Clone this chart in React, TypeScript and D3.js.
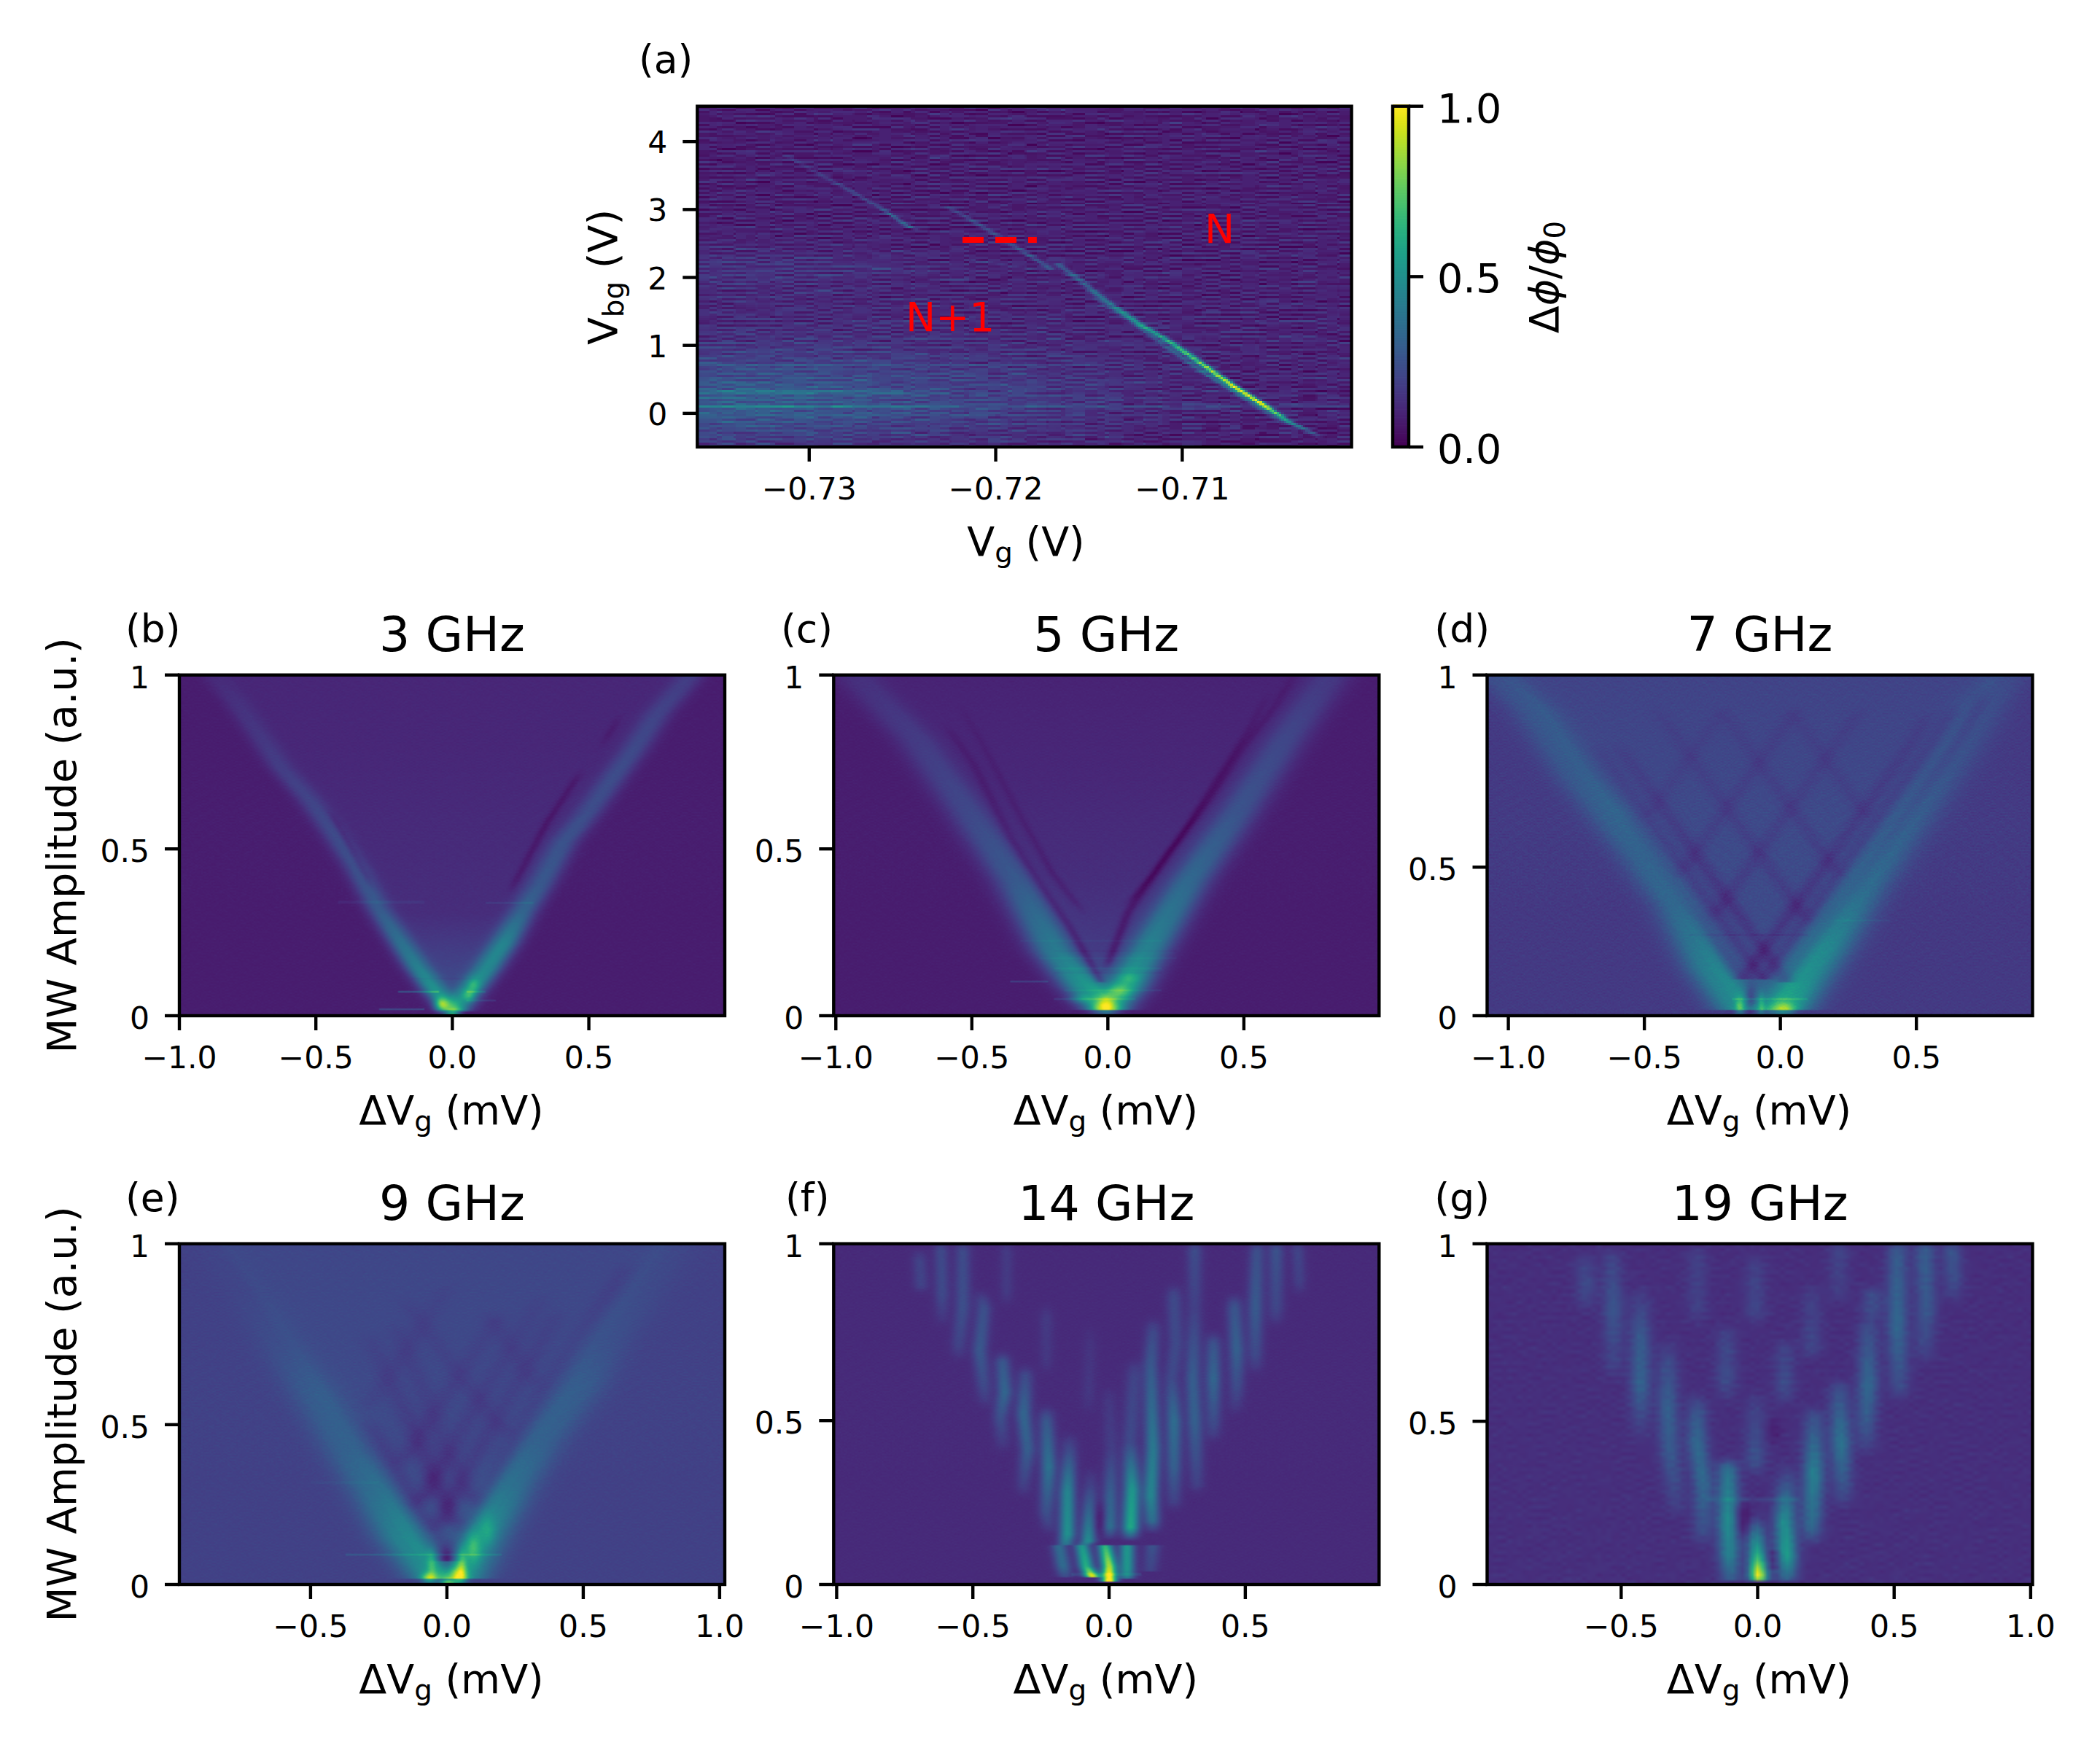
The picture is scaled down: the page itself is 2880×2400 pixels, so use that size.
import React, { useMemo } from "react";
import * as d3 from "d3";

// ---------- data ----------
// A ridge is [width, knots]; a knot is [x, y, added value]. y of panels b-g is the fraction of the amplitude axis.
type Knot = [number, number, number];
type Ridge = [number, Knot[]];
type Blob = [number, number, number, number, number]; // x, y, sx, sy, value
type Glitch = [number, number, number, number]; // y, x0, x1, value

const ridgesA: Ridge[] = [
  [0.00017, [[-0.71666, 2.195, 0.18], [-0.71526, 1.909, 0.22], [-0.71422, 1.675, 0.28], [-0.7134, 1.523, 0.34], [-0.71212, 1.285, 0.42], [-0.7108, 1.075, 0.5], [-0.70948, 0.825, 0.62], [-0.70724, 0.396, 0.85], [-0.70579, 0.146, 0.9], [-0.70421, -0.141, 0.42], [-0.70315, -0.266, 0.2], [-0.70263, -0.355, 0.06]]],
  [0.00015, [[-0.71462, 1.683, 0.08], [-0.71277, 1.362, 0.13], [-0.7108, 0.968, 0.18], [-0.70882, 0.592, 0.22], [-0.70684, 0.253, 0.22], [-0.70486, -0.105, 0.1], [-0.7043, -0.18, 0.04]]],
  [0.00015, [[-0.72254, 3.03, 0.1], [-0.72115, 2.816, 0.16], [-0.71909, 2.475, 0.15], [-0.71699, 2.112, 0.18]]],
  [0.00013, [[-0.73136, 3.822, 0.04], [-0.72928, 3.5, 0.09], [-0.72771, 3.268, 0.13], [-0.72615, 3.017, 0.16], [-0.72471, 2.749, 0.26], [-0.72415, 2.689, 0.05]]],
  [0.00018, [[-0.7215, 2.27, 0.04], [-0.717, 2.07, 0.07]]],
];
const blobsA: Blob[] = [
  [-0.735, 0.2, 0.006, 0.45, 0.13],
  [-0.727, 0.15, 0.008, 0.5, 0.09],
  [-0.718, 0.2, 0.005, 0.4, 0.035],
  [-0.73, 1.2, 0.01, 0.5, 0.02],
  [-0.735, 2.1, 0.006, 0.25, 0.05],
  [-0.727, 2.15, 0.005, 0.1, 0.02],
];
const glitchesA: Glitch[] = [
  [0.107, -0.736, -0.722, 0.16], [0.107, -0.722, -0.701, 0.08],
  [0.13, -0.711, -0.701, 0.05],
  [0.31, -0.736, -0.725, 0.09], [0.715, -0.736, -0.715, 0.06],
  [-0.02, -0.736, -0.72, 0.05],
];
const stripesLeft = "3526241735263184263715243617254136825143627153826317452638152473625184372615348261735243628154736251847362518473625948361725483617254936172584936275184937261859372".split("").map(Number);
const stripesRight = "2413526314253142635214362513427351426315243625134263152436271534261534726153427351627143526173425163725143627514362751436275143625174362517426351742635174263541".split("").map(Number);
const shiftA = [0, 7, 13, 3, 22, 9, 31, 5, 17, 41, 2, 27, 11, 36, 19, 6, 29, 14, 45, 1, 24, 8, 33, 16, 39, 4, 21, 12, 48, 26, 10, 35, 18];
const shiftB = [5, 28, 1, 19, 37, 12, 44, 8, 23, 3, 31, 15, 40, 6, 26, 10, 34, 17, 2, 47, 21, 13, 30, 7, 38, 25, 0, 16, 42, 9, 29];

const ridgesB: Ridge[] = [
  [0.032, [[-0.007, 0.018, 0.35], [-0.067, 0.075, 0.42], [-0.135, 0.147, 0.34], [-0.203, 0.23, 0.27], [-0.271, 0.313, 0.2], [-0.357, 0.438, 0.16], [-0.442, 0.541, 0.14], [-0.527, 0.635, 0.12], [-0.63, 0.728, 0.1], [-0.7, 0.811, 0.08], [-0.8, 0.925, 0.06], [-0.869, 0.988, 0.04], [-0.92, 1.05, 0.04]]],
  [0.036, [[0.01, 0.012, 0.35], [0.07, 0.075, 0.42], [0.13, 0.137, 0.38], [0.19, 0.21, 0.37], [0.258, 0.303, 0.24], [0.326, 0.386, 0.19], [0.411, 0.51, 0.17], [0.497, 0.593, 0.15], [0.6, 0.707, 0.15], [0.667, 0.78, 0.14], [0.753, 0.884, 0.12], [0.855, 0.977, 0.1], [0.92, 1.05, 0.1]]],
  [0.011, [[-0.459, 0.614, -0.04], [-0.391, 0.52, -0.05], [-0.288, 0.365, -0.05]]],
  [0.012, [[0.48, 0.728, -0.04], [0.343, 0.562, -0.06], [0.206, 0.355, -0.05]]],
  [0.012, [[0.62, 0.89, -0.03], [0.54, 0.78, -0.03]]],
];
const fillB: [number, number][] = [[0, 0.15], [0.1, 0.14], [0.3, 0.05], [0.5, 0.04], [0.8, 0.03], [1, 0.03]];
const blobsB: Blob[] = [
  [-0.04, 0.033, 0.018, 0.014, 0.4], [0, 0.007, 0.02, 0.006, 0.55], [0.061, 0.06, 0.016, 0.012, 0.2], [0.078, 0.09, 0.016, 0.014, 0.16],
];
const glitchesB: Glitch[] = [
  [0.334, -0.42, -0.1, 0.03], [0.332, 0.12, 0.3, 0.06], [0.07, -0.2, -0.05, 0.2], [0.018, -0.27, -0.1, 0.15], [0.07, 0.05, 0.12, 0.12], [0.045, 0.05, 0.16, 0.08], [0.11, -0.15, 0.1, -0.03],
];

const ridgesC: Ridge[] = [
  [0.054, [[-0.018, 0.018, 0.3], [-0.095, 0.085, 0.42], [-0.203, 0.189, 0.32], [-0.349, 0.396, 0.19], [-0.526, 0.604, 0.13], [-0.711, 0.811, 0.09], [-0.911, 0.977, 0.06], [-0.98, 1.05, 0.05]]],
  [0.054, [[0.012, 0.018, 0.3], [0.074, 0.085, 0.45], [0.151, 0.189, 0.35], [0.305, 0.396, 0.25], [0.489, 0.604, 0.17], [0.658, 0.811, 0.13], [0.797, 0.967, 0.09], [0.87, 1.05, 0.08]]],
  [0.014, [[-0.026, 0.1, -0.14], [-0.142, 0.261, -0.08], [-0.249, 0.386, -0.06], [-0.357, 0.521, -0.05], [-0.495, 0.739, -0.03], [-0.603, 0.863, -0.02]]],
  [0.014, [[-0.011, 0.127, -0.12], [0.074, 0.303, -0.08], [0.228, 0.479, -0.06], [0.382, 0.645, -0.05], [0.489, 0.78, -0.04], [0.612, 0.905, -0.03], [0.7, 1.02, -0.02]]],
  [0.012, [[0.058, 0.313, -0.05], [0.166, 0.417, -0.05], [0.289, 0.552, -0.05], [0.412, 0.707, -0.04], [0.52, 0.842, -0.03], [0.6, 0.96, -0.01]]],
  [0.012, [[-0.08, 0.293, -0.04], [-0.203, 0.417, -0.04], [-0.326, 0.593, -0.03], [-0.449, 0.78, -0.02], [-0.55, 0.92, -0.01]]],
];
const fillC: [number, number][] = [[0, 0.2], [0.1, 0.14], [0.2, 0.09], [0.4, 0.05], [0.7, 0.03], [1, 0.02]];
const blobsC: Blob[] = [
  [-0.01, 0.023, 0.035, 0.018, 0.35], [0.05, 0.07, 0.03, 0.015, 0.2], [0.08, 0.11, 0.025, 0.012, 0.12], [-0.095, 0.05, 0.03, 0.01, 0.15],
];
const glitchesC: Glitch[] = [
  [0.1, -0.36, -0.22, 0.12], [0.22, -0.32, 0.2, 0.03], [0.05, -0.2, 0.1, 0.08], [0.14, -0.2, 0.2, 0.04], [0.125, -0.2, 0.2, -0.03], [0.17, -0.25, 0.25, 0.03], [0.075, -0.16, 0.2, 0.05], [0.19, -0.2, 0.25, -0.02],
];

const ridgesD: Ridge[] = [
  [0.062, [[-0.155, 0.018, 0.3], [-0.263, 0.137, 0.26], [-0.386, 0.324, 0.17], [-0.509, 0.459, 0.14], [-0.648, 0.604, 0.13], [-0.755, 0.707, 0.11], [-0.909, 0.894, 0.1], [-1.017, 0.977, 0.08], [-1.09, 1.05, 0.07]]],
  [0.068, [[0.014, 0.018, 0.42], [0.091, 0.106, 0.33], [0.168, 0.199, 0.3], [0.306, 0.376, 0.19], [0.445, 0.541, 0.14], [0.598, 0.718, 0.1], [0.752, 0.915, 0.08], [0.814, 0.977, 0.06], [0.87, 1.05, 0.05]]],
  [0.024, [[0.022, 0.1, -0.08], [-0.242, 0.396, -0.06], [-0.611, 0.811, -0.02]]],
  [0.024, [[-0.063, 0.106, -0.08], [-0.326, 0.396, -0.05], [-0.695, 0.811, -0.015]]],
  [0.024, [[-0.14, 0.106, -0.09], [-0.403, 0.396, -0.04], [-0.58, 0.6, -0.015]]],
  [0.024, [[-0.14, 0.106, -0.09], [0.123, 0.396, -0.06], [0.492, 0.811, -0.03], [0.55, 0.9, -0.02]]],
  [0.024, [[-0.063, 0.106, -0.08], [0.2, 0.396, -0.06], [0.569, 0.811, -0.04], [0.65, 0.92, -0.03]]],
  [0.024, [[0.022, 0.1, -0.08], [0.285, 0.396, -0.06], [0.654, 0.811, -0.05], [0.72, 0.9, -0.05], [0.76, 0.97, -0.02]]],
  [0.024, [[0.114, 0.261, -0.05], [-0.191, 0.604, -0.03], [-0.468, 0.915, -0.015]]],
  [0.024, [[0.229, 0.396, -0.04], [0.045, 0.604, -0.03], [-0.232, 0.915, -0.015]]],
  [0.024, [[0.337, 0.562, -0.03], [0.023, 0.915, -0.015]]],
  [0.024, [[-0.263, 0.272, -0.05], [0.032, 0.604, -0.03], [0.309, 0.915, -0.02]]],
  [0.024, [[-0.386, 0.396, -0.04], [-0.202, 0.604, -0.03], [0.075, 0.915, -0.02]]],
  [0.024, [[-0.509, 0.562, -0.025], [-0.195, 0.915, -0.015]]],
];
const fillD: [number, number][] = [[0, 0.1], [0.1, 0.1], [0.3, 0.06], [1, 0.035]];
const blobsD: Blob[] = [
  [-0.109, 0.044, 0.014, 0.03, -0.2], [-0.07, 0.03, 0.008, 0.025, 0.15], [-0.15, 0.025, 0.012, 0.02, 0.25], [0.014, 0.018, 0.028, 0.016, 0.3],
];
const glitchesD: Glitch[] = [[0.238, -0.34, 0.1, -0.04], [0.28, 0.2, 0.4, 0.04], [0.05, -0.18, 0.1, 0.1]];

const ridgesE: Ridge[] = [
  [0.064, [[-0.048, 0.018, 0.3], [-0.168, 0.137, 0.25], [-0.271, 0.272, 0.16], [-0.373, 0.396, 0.11], [-0.493, 0.562, 0.09], [-0.613, 0.707, 0.04], [-0.733, 0.863, 0.015], [-0.9, 1.05, 0.01]]],
  [0.064, [[0.055, 0.018, 0.3], [0.149, 0.168, 0.28], [0.243, 0.293, 0.17], [0.346, 0.417, 0.11], [0.5, 0.583, 0.09], [0.586, 0.707, 0.05], [0.723, 0.863, 0.03], [0.88, 1.05, 0.02]]],
  [0.03, [[0, 0.07, -0.1], [-0.039, 0.147, -0.08], [-0.108, 0.22, -0.09], [-0.185, 0.334, -0.06], [-0.305, 0.5, -0.02]]],
  [0.03, [[0.046, 0.147, -0.08], [0.003, 0.23, -0.08], [-0.048, 0.313, -0.07], [-0.099, 0.417, -0.05], [-0.185, 0.562, -0.03], [-0.3, 0.75, -0.015]]],
  [0.03, [[0.106, 0.22, -0.08], [0.055, 0.313, -0.04], [-0.014, 0.417, -0.03], [-0.082, 0.562, -0.03], [-0.2, 0.78, -0.015]]],
  [0.03, [[0, 0.07, -0.1], [0.046, 0.147, -0.08], [0.106, 0.22, -0.08], [0.149, 0.282, -0.07], [0.243, 0.417, -0.04], [0.346, 0.562, -0.03], [0.483, 0.728, -0.02], [0.603, 0.863, -0.03], [0.68, 0.96, -0.015]]],
  [0.03, [[-0.039, 0.147, -0.08], [0.003, 0.23, -0.08], [0.072, 0.334, -0.05], [0.192, 0.5, -0.03], [0.312, 0.666, -0.03], [0.42, 0.82, -0.015]]],
  [0.03, [[-0.108, 0.22, -0.09], [-0.048, 0.313, -0.07], [0.021, 0.407, -0.04], [0.14, 0.573, -0.03], [0.26, 0.728, -0.02], [0.36, 0.86, -0.015]]],
  [0.03, [[0.243, 0.417, -0.03], [0.055, 0.604, -0.025], [-0.168, 0.853, -0.015]]],
  [0.03, [[-0.185, 0.334, -0.04], [0.003, 0.562, -0.03], [0.209, 0.811, -0.015]]],
  [0.03, [[-0.305, 0.5, -0.02], [-0.116, 0.728, -0.02], [0.02, 0.9, -0.01]]],
  [0.03, [[0.346, 0.562, -0.02], [0.14, 0.811, -0.02]]],
];
const fillE: [number, number][] = [[0, 0.1], [0.2, 0.08], [0.4, 0.03], [1, 0.02]];
const blobsE: Blob[] = [
  [0, 0.07, 0.02, 0.025, -0.18], [-0.065, 0.018, 0.02, 0.012, 0.35], [0.046, 0.023, 0.02, 0.02, 0.4], [0.003, 0.007, 0.02, 0.006, 0.45],
  [-0.056, 0.06, 0.012, 0.03, 0.16], [0.055, 0.06, 0.012, 0.03, 0.2], [0.098, 0.106, 0.02, 0.03, 0.2], [0.149, 0.158, 0.02, 0.03, 0.12],
];
const glitchesE: Glitch[] = [[0.088, -0.37, 0.2, 0.1], [0.3, -0.5, -0.25, 0.02]];

const ridgesF: Ridge[] = [
  [0.019, [[-0.698, 0.99, 0.08], [-0.69, 0.873, 0.08], [-0.69, 0.84, 0]]],
  [0.019, [[-0.618, 1.02, 0.1], [-0.613, 0.85, 0.1], [-0.613, 0.74, 0]]],
  [0.02, [[-0.537, 1.02, 0.1], [-0.537, 0.811, 0.12], [-0.552, 0.707, 0.08], [-0.552, 0.64, 0]]],
  [0.02, [[-0.475, 0.88, 0], [-0.46, 0.811, 0.12], [-0.475, 0.687, 0.15], [-0.46, 0.583, 0.1], [-0.452, 0.5, 0]]],
  [0.02, [[-0.391, 0.7, 0], [-0.391, 0.65, 0.15], [-0.383, 0.562, 0.2], [-0.399, 0.49, 0.12], [-0.391, 0.417, 0.05], [-0.391, 0.37, 0]]],
  [0.02, [[-0.307, 0.66, 0], [-0.307, 0.614, 0.1], [-0.314, 0.5, 0.2], [-0.299, 0.396, 0.17], [-0.314, 0.293, 0.07], [-0.31, 0.24, 0]]],
  [0.02, [[-0.23, 0.54, 0], [-0.23, 0.479, 0.15], [-0.222, 0.344, 0.25], [-0.23, 0.21, 0.12], [-0.215, 0.13, 0]]],
  [0.02, [[-0.146, 0.46, 0], [-0.146, 0.396, 0.1], [-0.153, 0.272, 0.33], [-0.153, 0.147, 0.38], [-0.16, 0.116, 0.25]]],
  [0.02, [[-0.184, 0.116, 0.22], [-0.169, 0.054, 0.22], [-0.16, 0.02, 0.1]]],
  [0.019, [[-0.069, 0.36, 0], [-0.069, 0.293, 0.07], [-0.077, 0.127, 0.36], [-0.09, 0.116, 0.26]]],
  [0.019, [[-0.1, 0.116, 0.4], [-0.084, 0.054, 0.5], [-0.061, 0.023, 0.82]]],
  [0.019, [[0, 0.6, 0], [0, 0.54, 0.04], [0.008, 0.396, 0.06], [0, 0.13, 0.3]]],
  [0.019, [[-0.015, 0.116, 0.52], [0, 0.054, 0.75], [0, 0.01, 0.95]]],
  [0.021, [[0.092, 0.68, 0], [0.092, 0.614, 0.08], [0.077, 0.417, 0.1], [0.084, 0.28, 0.4], [0.077, 0.127, 0.5]]],
  [0.019, [[0.066, 0.116, 0.4], [0.066, 0.044, 0.4], [0.066, 0.015, 0.25]]],
  [0.02, [[0.161, 0.8, 0], [0.161, 0.739, 0.1], [0.153, 0.645, 0.15], [0.161, 0.396, 0.28], [0.153, 0.261, 0.33], [0.161, 0.147, 0.18]]],
  [0.02, [[0.16, 0.116, 0.13], [0.15, 0.04, 0.08]]],
  [0.02, [[0.238, 0.9, 0], [0.238, 0.842, 0.1], [0.245, 0.707, 0.1], [0.23, 0.604, 0.1], [0.238, 0.479, 0.23], [0.238, 0.344, 0.18], [0.238, 0.24, 0.07], [0.238, 0.2, 0]]],
  [0.02, [[0.314, 1.02, 0.12], [0.314, 0.811, 0.07], [0.307, 0.604, 0.17], [0.314, 0.479, 0.18], [0.322, 0.293, 0.07], [0.322, 0.25, 0]]],
  [0.02, [[0.383, 0.76, 0], [0.383, 0.7, 0.14], [0.383, 0.604, 0.2], [0.383, 0.469, 0.1], [0.38, 0.4, 0]]],
  [0.02, [[0.46, 0.87, 0], [0.46, 0.811, 0.14], [0.468, 0.687, 0.18], [0.468, 0.573, 0.1], [0.46, 0.48, 0]]],
  [0.02, [[0.544, 1.02, 0.11], [0.537, 0.811, 0.16], [0.537, 0.676, 0.1], [0.54, 0.6, 0]]],
  [0.02, [[0.613, 1.02, 0.14], [0.613, 0.811, 0.09], [0.61, 0.74, 0]]],
  [0.018, [[0.69, 1.02, 0.09], [0.698, 0.894, 0.07], [0.7, 0.83, 0]]],
  [0.018, [[-0.376, 1.02, 0.05], [-0.376, 0.86, 0.05], [-0.376, 0.8, 0]]],
  [0.018, [[-0.23, 0.84, 0], [-0.23, 0.78, 0.05], [-0.23, 0.66, 0.04], [-0.23, 0.6, 0]]],
  [0.018, [[-0.07, 0.78, 0], [-0.07, 0.7, 0.03], [-0.075, 0.56, 0.04], [-0.075, 0.48, 0]]],
  [0.022, [[-0.03, 0.27, 0], [-0.03, 0.2, -0.09], [-0.03, 0.13, -0.09]]],
];
const glitchesF: Glitch[] = [[0.03, -0.14, 0.12, 0.06]];

const ridgesG: Ridge[] = [
  [0.026, [[-0.636, 0.98, 0.06], [-0.628, 0.863, 0.09], [-0.63, 0.78, 0]]],
  [0.026, [[-0.537, 1.0, 0.05], [-0.529, 0.811, 0.13], [-0.529, 0.645, 0.06], [-0.53, 0.58, 0]]],
  [0.026, [[-0.43, 0.9, 0], [-0.43, 0.728, 0.15], [-0.43, 0.583, 0.18], [-0.43, 0.469, 0.06], [-0.43, 0.4, 0]]],
  [0.026, [[-0.33, 0.74, 0], [-0.33, 0.645, 0.1], [-0.33, 0.521, 0.17], [-0.323, 0.396, 0.15], [-0.3, 0.241, 0.06], [-0.3, 0.18, 0]]],
  [0.026, [[-0.223, 0.58, 0], [-0.223, 0.5, 0.14], [-0.223, 0.417, 0.2], [-0.2, 0.293, 0.2], [-0.2, 0.158, 0.1], [-0.2, 0.1, 0]]],
  [0.026, [[-0.109, 0.39, 0], [-0.109, 0.334, 0.25], [-0.109, 0.189, 0.35], [-0.104, 0.085, 0.3], [-0.101, 0.012, 0.14]]],
  [0.026, [[-0.009, 0.58, 0], [-0.009, 0.54, 0.05], [-0.009, 0.365, 0.12], [-0.005, 0.3, 0]]],
  [0.022, [[-0.009, 0.22, 0], [-0.009, 0.19, 0.1], [-0.002, 0.085, 0.5], [0.003, 0.023, 0.9], [0.003, 0.008, 0.5]]],
  [0.026, [[0.106, 0.38, 0], [0.106, 0.33, 0.05], [0.098, 0.189, 0.35], [0.106, 0.085, 0.42], [0.106, 0.012, 0.17]]],
  [0.026, [[0.205, 0.54, 0], [0.205, 0.5, 0.1], [0.205, 0.324, 0.3], [0.197, 0.167, 0.2], [0.197, 0.11, 0]]],
  [0.026, [[0.297, 0.62, 0], [0.297, 0.58, 0.1], [0.304, 0.417, 0.25], [0.312, 0.27, 0.1], [0.31, 0.21, 0]]],
  [0.026, [[0.404, 0.8, 0], [0.404, 0.76, 0.1], [0.404, 0.583, 0.2], [0.396, 0.469, 0.14], [0.4, 0.36, 0]]],
  [0.026, [[0.511, 1.02, 0.14], [0.511, 0.76, 0.2], [0.518, 0.583, 0.1], [0.52, 0.52, 0]]],
  [0.026, [[0.61, 1.02, 0.17], [0.618, 0.811, 0.14], [0.61, 0.687, 0.07], [0.61, 0.63, 0]]],
  [0.024, [[0.709, 1.02, 0.14], [0.717, 0.884, 0.1], [0.72, 0.81, 0]]],
  [0.026, [[-0.223, 1.0, 0.06], [-0.223, 0.811, 0.06], [-0.22, 0.74, 0]]],
  [0.026, [[-0.009, 0.98, 0.05], [-0.009, 0.811, 0.08], [-0.01, 0.74, 0]]],
  [0.026, [[0.197, 0.9, 0], [0.197, 0.85, 0.05], [0.197, 0.7, 0.08], [0.197, 0.64, 0]]],
  [0.026, [[0.419, 0.9, 0], [0.419, 0.85, 0.1], [0.419, 0.76, 0.1]]],
  [0.026, [[-0.116, 0.78, 0], [-0.116, 0.73, 0.07], [-0.116, 0.6, 0.1], [-0.116, 0.52, 0]]],
  [0.026, [[0.098, 0.74, 0], [0.098, 0.7, 0.06], [0.098, 0.58, 0.1], [0.098, 0.51, 0]]],
  [0.026, [[0.297, 1.02, 0.08], [0.297, 0.86, 0.05], [0.297, 0.8, 0]]],
  [0.02, [[-0.055, 0.25, -0.11], [-0.055, 0.127, -0.09]]],
  [0.015, [[0.06, 0.1, -0.08], [0.06, 0.04, -0.07]]],
  [0.02, [[0.06, 0.5, -0.05], [0.06, 0.4, -0.04]]],
];
const glitchesG: Glitch[] = [[0.25, -0.2, 0.15, 0.05]];

// ---------- panel descriptions ----------
const freqTitles = ["3 GHz", "5 GHz", "7 GHz", "9 GHz", "14 GHz", "19 GHz"];
const panelLetters = ["(b)", "(c)", "(d)", "(e)", "(f)", "(g)"];
const xDomains: [number, number][] = [[-1.0, 0.998], [-1.008, 0.997], [-1.078, 0.927], [-0.981, 1.019], [-1.011, 0.991], [-0.991, 1.007]];
const xTickSets = [[-1, -0.5, 0, 0.5], [-1, -0.5, 0, 0.5], [-1, -0.5, 0, 0.5], [-0.5, 0, 0.5, 1], [-1, -0.5, 0, 0.5], [-0.5, 0, 0.5, 1]];
const midTickFractions = [0.4896, 0.4896, 0.436, 0.469, 0.481, 0.479];
const backgrounds = [0.08, 0.08, 0.17, 0.195, 0.12, 0.135];
const grainLevels = [0.002, 0.002, 0.005, 0.003, 0.002, 0.004];
const ridgeSets = [ridgesB, ridgesC, ridgesD, ridgesE, ridgesF, ridgesG];
const blobSets = [blobsB, blobsC, blobsD, blobsE, [] as Blob[], [] as Blob[]];
const glitchSets = [glitchesB, glitchesC, glitchesD, glitchesE, glitchesF, glitchesG];
const fillSets = [fillB, fillC, fillD, fillE, null, null];
const vTicks = [4, 3, 2, 1, 0];
const vgTicks = [-0.73, -0.72, -0.71];
const cbarTicks = [1, 0.5, 0];
const dashV = [-0.72178, -0.7178];
const dashVbg = 2.553;

// ---------- rasterising ----------
const viridis = d3.scaleSequential(d3.interpolateViridis).domain([0, 1]).clamp(true);

type FieldOpts = {
  nx: number; ny: number; xd: [number, number]; yd: [number, number]; base: number;
  ridges: Ridge[]; blobs: Blob[]; glitches: Glitch[]; fill?: [number, number][] | null;
  grain: number; blockA: number; blockB: number; taper: number;
};

const sortedKnots = new Map<Ridge, Knot[]>();
function knotsOf(r: Ridge): Knot[] {
  let k = sortedKnots.get(r);
  if (!k) { k = [...r[1]].sort((a, b) => a[1] - b[1]); sortedKnots.set(r, k); }
  return k;
}

function atRow(r: Ridge, y: number, taper = 0): [number, number] | null {
  const k = knotsOf(r);
  const y0 = k[0][1], y1 = k[k.length - 1][1];
  if (y < y0 || y > y1) return null;
  let fade = 1;
  if (taper > 0) {
    if (y0 > 0.125) fade *= Math.min(1, (y - y0) / taper);
    if (y1 > 0.125) fade *= Math.min(1, (y1 - y) / taper);
  }
  for (let i = 0; i < k.length - 1; i++) {
    if (y <= k[i + 1][1]) {
      const t = (y - k[i][1]) / Math.max(1e-9, k[i + 1][1] - k[i][1]);
      return [k[i][0] + t * (k[i + 1][0] - k[i][0]), fade * (k[i][2] + t * (k[i + 1][2] - k[i][2]))];
    }
  }
  return null;
}

function rasterize(o: FieldOpts): string {
  const canvas = document.createElement("canvas");
  canvas.width = o.nx; canvas.height = o.ny;
  const ctx = canvas.getContext("2d")!;
  const img = ctx.createImageData(o.nx, o.ny);
  const xs = d3.scaleLinear().domain([0, o.nx]).range(o.xd);
  const ys = d3.scaleLinear().domain([0, o.ny]).range([o.yd[1], o.yd[0]]);
  const rowH = Math.abs(ys(1) - ys(0));
  const fillScale = o.fill ? d3.scaleLinear().domain(o.fill.map((d) => d[0])).range(o.fill.map((d) => d[1])) : null;
  const palette = d3.range(1024).map((i) => d3.rgb(viridis(i / 1023)));
  for (let j = 0; j < o.ny; j++) {
    const y = ys(j + 0.5);
    const row = o.ridges.map((r) => ({ w: r[0], at: atRow(r, y, o.taper) })).filter((r) => r.at);
    let edgeL = 0, edgeR = 0;
    if (o.fill) {
      const yc = Math.max(0.02, Math.min(1.0, y));
      edgeL = atRow(o.ridges[0], yc)?.[0] ?? 0;
      edgeR = atRow(o.ridges[1], yc)?.[0] ?? 0;
    }
    const gl = o.glitches.filter((g) => Math.abs(g[0] - y) <= rowH * 0.7);
    for (let i = 0; i < o.nx; i++) {
      const x = xs(i + 0.5);
      let v = o.base;
      const l = stripesLeft[(j + shiftA[Math.floor(i / o.blockA) % shiftA.length]) % stripesLeft.length] - 4;
      const r = stripesRight[(j + shiftB[Math.floor(i / o.blockB) % shiftB.length]) % stripesRight.length] - 4;
      v += (l + r) * o.grain;
      if (fillScale) {
        const a = Math.min(1, Math.max(0, (x - edgeL) / 0.05));
        const b = Math.min(1, Math.max(0, (edgeR - x) / 0.05));
        v += fillScale(y) * a * b;
      }
      for (const q of row) {
        const d = (x - q.at![0]) / q.w;
        if (Math.abs(d) < 4) v += q.at![1] * Math.exp(-0.5 * d * d);
      }
      for (const b of o.blobs) {
        const dx = (x - b[0]) / b[2], dy = (y - b[1]) / b[3];
        v += b[4] * Math.exp(-0.5 * (dx * dx + dy * dy));
      }
      for (const g of gl) if (x >= g[1] && x <= g[2]) v += g[3];
      const c = palette[Math.round(Math.max(0, Math.min(1, v)) * 1023)];
      const p = (j * o.nx + i) * 4;
      img.data[p] = c.r; img.data[p + 1] = c.g; img.data[p + 2] = c.b; img.data[p + 3] = 255;
    }
  }
  ctx.putImageData(img, 0, 0);
  return canvas.toDataURL("image/png");
}

// ---------- drawing ----------
const FONT = "'DejaVu Sans', sans-serif";
const SPINE = 4.4, TICK = 20;
const TICK_FS = 42.5, LABEL_FS = 55.5, TITLE_FS = 66.5, LETTER_FS = 53.5;

function GLabel({ x, y, pre, sub, post, rotate }: { x: number; y: number; pre: string; sub: string; post: string; rotate?: boolean }) {
  return (
    <text x={x} y={y} textAnchor="middle" fontFamily={FONT} fontSize={LABEL_FS} fill="#000"
      transform={rotate ? `rotate(-90 ${x} ${y})` : undefined} xmlSpace="preserve">
      {pre}
      <tspan fontSize={LABEL_FS * 0.7} dy={LABEL_FS * 0.16}>{sub}</tspan>
      <tspan dy={-LABEL_FS * 0.16}>{post}</tspan>
    </text>
  );
}

function Panel({ idx, left, top }: { idx: number; left: number; top: number }) {
  const w = 748, h = 467.3;
  const x = d3.scaleLinear().domain(xDomains[idx]).range([left, left + w]);
  const y = d3.scaleLinear().domain([0, 1]).range([top + h, top]);
  const href = useMemo(() => rasterize({
    nx: idx === 5 ? 110 : 374, ny: idx === 5 ? 90 : 234, xd: xDomains[idx], yd: [0, 1], base: backgrounds[idx],
    ridges: ridgeSets[idx], blobs: blobSets[idx], glitches: glitchSets[idx], fill: fillSets[idx],
    grain: grainLevels[idx], blockA: 1, blockB: 1, taper: 0.04,
  }), [idx]);
  const yTicks: [number, string][] = [[0, "0"], [midTickFractions[idx], "0.5"], [1, "1"]];
  const col = idx % 3;
  const letterX = [[172, 1071, 1967.3], [172, 1077, 1967.3]][idx < 3 ? 0 : 1][col];
  const fmt = d3.format(".1f");
  return (
    <g>
      <image href={href} x={left} y={top} width={w} height={h} preserveAspectRatio="none" />
      <rect x={left} y={top} width={w} height={h} fill="none" stroke="#000" strokeWidth={SPINE} />
      {xTickSets[idx].map((t) => (
        <g key={t}>
          <line x1={x(t)} x2={x(t)} y1={top + h} y2={top + h + TICK} stroke="#000" strokeWidth={SPINE} />
          <text x={x(t)} y={top + h + 72} textAnchor="middle" fontFamily={FONT} fontSize={TICK_FS}>{fmt(t)}</text>
        </g>
      ))}
      {yTicks.map(([f, l]) => (
        <g key={l}>
          <line x1={left - TICK} x2={left} y1={y(f)} y2={y(f)} stroke="#000" strokeWidth={SPINE} />
          <text x={left - 41} y={y(f) + 18} textAnchor="end" fontFamily={FONT} fontSize={TICK_FS}>{l}</text>
        </g>
      ))}
      <text x={left + w / 2} y={top - 33} textAnchor="middle" fontFamily={FONT} fontSize={TITLE_FS}>{freqTitles[idx]}</text>
      <text x={letterX} y={top - 45} fontFamily={FONT} fontSize={LETTER_FS}>{panelLetters[idx]}</text>
      <GLabel x={left + w / 2 - 1} y={top + h + 149} pre="ΔV" sub="g" post=" (mV)" />
      {col === 0 && (
        <text x={104} y={top + h / 2} textAnchor="middle" fontFamily={FONT} fontSize={LABEL_FS}
          transform={`rotate(-90 104 ${top + h / 2})`}>MW Amplitude (a.u.)</text>
      )}
    </g>
  );
}

function PanelA() {
  const left = 956.3, right = 1853.6, top = 145.7, bottom = 613;
  const xd: [number, number] = [-0.736, -0.70092];
  const yd: [number, number] = [-0.495, 4.52];
  const x = d3.scaleLinear().domain(xd).range([left, right]);
  const y = d3.scaleLinear().domain(yd).range([bottom, top]);
  const href = useMemo(() => rasterize({
    nx: 270, ny: 156, xd, yd, base: 0.09,
    ridges: ridgesA, blobs: blobsA, glitches: glitchesA,
    grain: 0.014, blockA: 8, blockB: 5, taper: 0,
  }), []);
  const fmt = d3.format(".2f");
  const cbX = 1910, cbW = 22;
  const cb = d3.scaleLinear().domain([0, 1]).range([bottom, top]);
  const cbSteps = d3.range(0, 256).map((i) => i / 255);
  return (
    <g>
      <image href={href} x={left} y={top} width={right - left} height={bottom - top} preserveAspectRatio="none" style={{ imageRendering: "pixelated" }} />
      <rect x={left} y={top} width={right - left} height={bottom - top} fill="none" stroke="#000" strokeWidth={SPINE} />
      {vgTicks.map((t) => (
        <g key={t}>
          <line x1={x(t)} x2={x(t)} y1={bottom} y2={bottom + TICK} stroke="#000" strokeWidth={SPINE} />
          <text x={x(t)} y={bottom + 72} textAnchor="middle" fontFamily={FONT} fontSize={TICK_FS}>{fmt(t)}</text>
        </g>
      ))}
      {vTicks.map((t) => (
        <g key={t}>
          <line x1={left - TICK} x2={left} y1={y(t)} y2={y(t)} stroke="#000" strokeWidth={SPINE} />
          <text x={left - 41} y={y(t) + 16} textAnchor="end" fontFamily={FONT} fontSize={TICK_FS}>{t}</text>
        </g>
      ))}
      <text x={875.9} y={100} fontFamily={FONT} fontSize={LETTER_FS}>(a)</text>
      <GLabel x={1407} y={762} pre="V" sub="g" post=" (V)" />
      <GLabel x={846} y={380} pre="V" sub="bg" post=" (V)" rotate />
      <line x1={x(dashV[0])} x2={x(dashV[1])} y1={y(dashVbg)} y2={y(dashVbg)} stroke="#f00" strokeWidth={8} strokeDasharray="29 16" />
      <text x={1242} y={454.4} fontFamily={FONT} fontSize={55} fill="#f00">N+1</text>
      <text x={1652} y={333.3} fontFamily={FONT} fontSize={55} fill="#f00">N</text>
      {cbSteps.map((v) => (
        <rect key={v} x={cbX} y={cb(v) - 2.4} width={cbW} height={2.6} fill={viridis(v)} />
      ))}
      <rect x={cbX} y={top} width={cbW} height={bottom - top} fill="none" stroke="#000" strokeWidth={SPINE} />
      {cbarTicks.map((t) => (
        <g key={t}>
          <line x1={cbX + cbW} x2={cbX + cbW + TICK} y1={cb(t)} y2={cb(t)} stroke="#000" strokeWidth={SPINE} />
          <text x={1971} y={cb(t) + 22} fontFamily={FONT} fontSize={LABEL_FS}>{d3.format(".1f")(t)}</text>
        </g>
      ))}
      <text x={2137} y={380} textAnchor="middle" fontFamily={FONT} fontSize={LABEL_FS} transform="rotate(-90 2137 380)">
        Δ<tspan fontStyle="italic">ϕ</tspan>/<tspan fontStyle="italic">ϕ</tspan>
        <tspan fontSize={LABEL_FS * 0.7} dy={LABEL_FS * 0.16}>0</tspan>
      </text>
    </g>
  );
}

export default function App() {
  const lefts = [246, 1143.3, 2039.5];
  const tops = [925.7, 1705.7];
  return (
    <svg width={2880} height={2400} viewBox="0 0 2880 2400" style={{ position: "absolute", left: 0, top: 0, background: "#fff", display: "block" }}>
      <PanelA />
      {freqTitles.map((_, i) => (
        <Panel key={i} idx={i} left={lefts[i % 3]} top={tops[i < 3 ? 0 : 1]} />
      ))}
    </svg>
  );
}
